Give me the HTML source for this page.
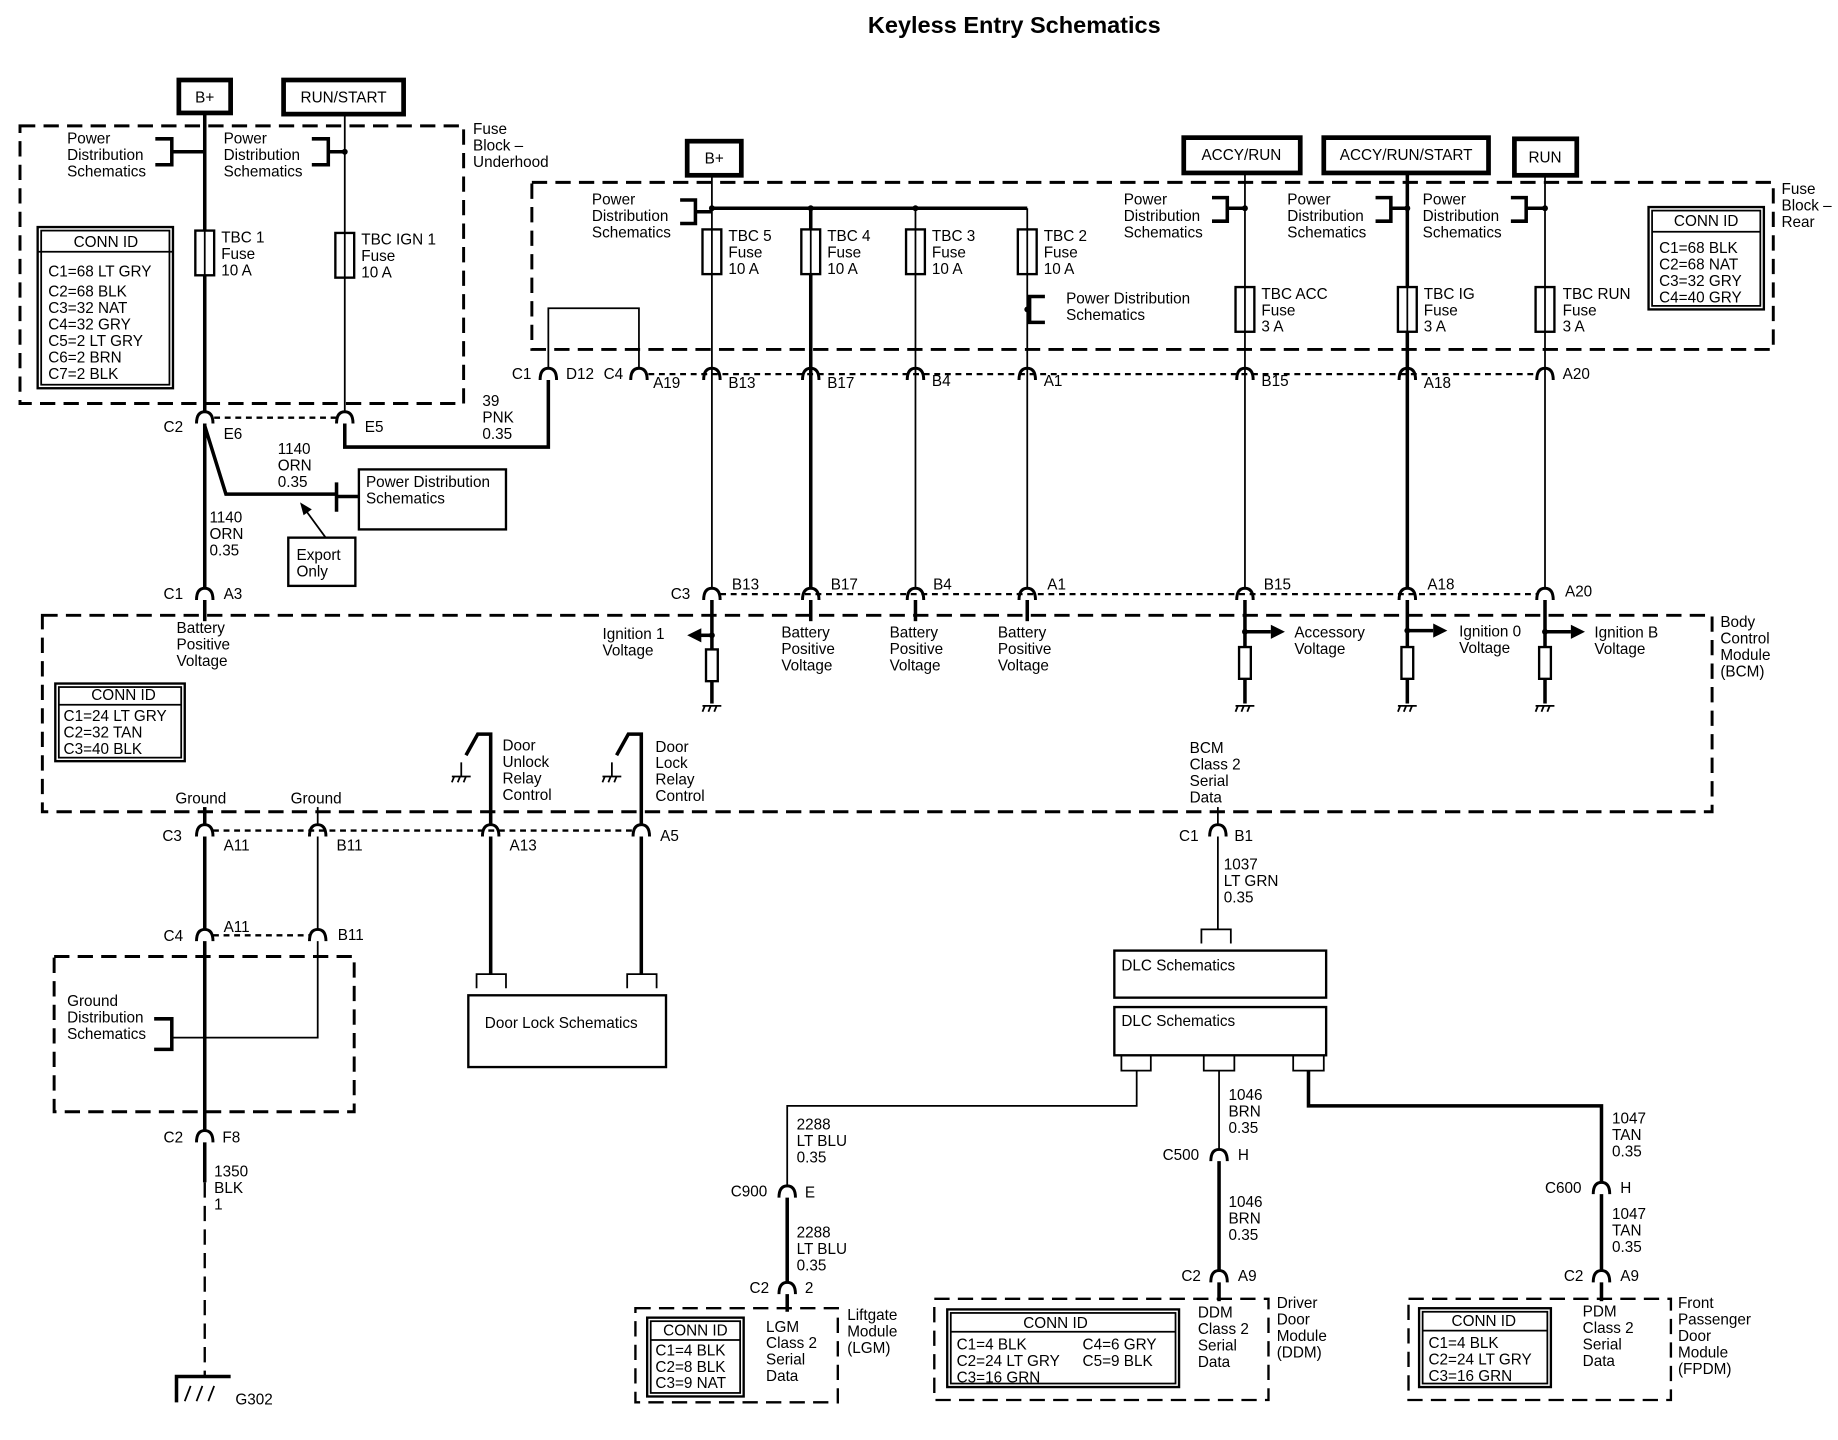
<!DOCTYPE html>
<html><head><meta charset="utf-8"><style>
html,body{margin:0;padding:0;background:#fff}
svg{display:block}
text{font-family:"Liberation Sans",sans-serif;font-size:13px;fill:#000}
.t{font-weight:bold;font-size:20px}
.w{stroke:#000;stroke-width:3;fill:none}
.n{stroke:#000;stroke-width:1.5;fill:none}
.d{stroke:#000;stroke-width:2.5;fill:none;stroke-dasharray:13,7}
.dt{stroke:#000;stroke-width:2;fill:none;stroke-dasharray:5,4}
.b{stroke:#000;stroke-width:2;fill:#fff}
.bb{stroke:#000;stroke-width:4;fill:#fff}
.c{stroke:#000;stroke-width:2.5;fill:none}
</style></head><body>
<svg width="1838" height="1440" viewBox="0 0 1562 1224" preserveAspectRatio="none" xmlns="http://www.w3.org/2000/svg">
<defs>
<g id="cn"><path class="c" d="M-7,5 Q-7,-5 0,-5 Q7,-5 7,5"/></g>
<g id="fz"><rect x="-8" y="0" width="16" height="38" class="b"/><line x1="0" y1="0" x2="0" y2="38" class="n"/></g>
<g id="gnd"><line x1="-8" y1="0" x2="8" y2="0" class="n"/><line x1="-6" y1="0" x2="-8" y2="5" class="n"/><line x1="-1" y1="0" x2="-3" y2="5" class="n"/><line x1="4" y1="0" x2="2" y2="5" class="n"/></g>
</defs>
<text x="862" y="28" class="t" text-anchor="middle">Keyless Entry Schematics</text>

<rect x="152" y="68" width="44" height="28" class="bb"/><text x="174" y="87" text-anchor="middle">B+</text>
<rect x="241" y="68" width="102" height="29" class="bb"/><text x="292" y="87" text-anchor="middle">RUN/START</text>
<rect x="17" y="107" width="377" height="236" class="d"/>
<text x="402" y="114">Fuse</text><text x="402" y="128">Block –</text><text x="402" y="142">Underhood</text>
<line x1="174" y1="96" x2="174" y2="350" class="w"/>
<line x1="293" y1="97" x2="293" y2="350" class="n"/>
<text x="57" y="122">Power</text><text x="57" y="136">Distribution</text><text x="57" y="150">Schematics</text>
<path class="w" d="M132,118 H146 V140 H132 M146,129 H174"/>
<text x="190" y="122">Power</text><text x="190" y="136">Distribution</text><text x="190" y="150">Schematics</text>
<path class="w" d="M265,118 H279 V140 H265 M279,129 H293"/>
<circle cx="293" cy="129" r="2.5"/>
<use href="#fz" x="174" y="196"/><text x="188" y="206">TBC 1</text><text x="188" y="220">Fuse</text><text x="188" y="234">10 A</text>
<use href="#fz" x="293" y="198"/><text x="307" y="208">TBC IGN 1</text><text x="307" y="222">Fuse</text><text x="307" y="236">10 A</text>
<rect x="32" y="193" width="115" height="137" class="b"/><line x1="32" y1="214" x2="147" y2="214" class="n"/>
<rect x="35" y="196" width="109" height="131" class="n"/>
<text x="90" y="210" text-anchor="middle">CONN ID</text>
<text x="41" y="235">C1=68 LT GRY</text><text x="41" y="252">C2=68 BLK</text><text x="41" y="266">C3=32 NAT</text><text x="41" y="280">C4=32 GRY</text><text x="41" y="294">C5=2 LT GRY</text><text x="41" y="308">C6=2 BRN</text><text x="41" y="322">C7=2 BLK</text>

<use href="#cn" x="174" y="355"/><text x="139" y="367">C2</text><text x="190" y="373">E6</text>
<use href="#cn" x="293" y="355"/><text x="310" y="367">E5</text>
<line x1="182" y1="355" x2="286" y2="355" class="dt"/>
<path class="w" d="M293,360 V380 H466 V323"/>
<text x="410" y="345">39</text><text x="410" y="359">PNK</text><text x="410" y="373">0.35</text>
<path class="w" d="M174,362 L192,420 H286"/>
<path class="w" d="M286,410 V435 M286,422 H305"/>
<rect x="305" y="399" width="125" height="51" class="b"/>
<text x="311" y="414">Power Distribution</text><text x="311" y="428">Schematics</text>
<text x="236" y="386">1140</text><text x="236" y="400">ORN</text><text x="236" y="414">0.35</text>
<line x1="279" y1="460" x2="260" y2="434" class="n"/><path d="M255,427 L265,433 L258,438 Z"/>
<rect x="245" y="457" width="57" height="41" class="b"/><text x="252" y="476">Export</text><text x="252" y="490">Only</text>
<line x1="174" y1="360" x2="174" y2="500" class="w"/>
<text x="178" y="444">1140</text><text x="178" y="458">ORN</text><text x="178" y="472">0.35</text>
<use href="#cn" x="174" y="505"/><text x="139" y="509">C1</text><text x="190" y="509">A3</text>

<rect x="584" y="120" width="46" height="29" class="bb"/><text x="607" y="139" text-anchor="middle">B+</text>
<rect x="1006" y="117" width="99" height="30" class="bb"/><text x="1055" y="136" text-anchor="middle">ACCY/RUN</text>
<rect x="1125" y="117" width="140" height="30" class="bb"/><text x="1195" y="136" text-anchor="middle">ACCY/RUN/START</text>
<rect x="1287" y="118" width="53" height="31" class="bb"/><text x="1313" y="138" text-anchor="middle">RUN</text>
<rect x="452" y="155" width="1055" height="142" class="d"/>
<text x="1514" y="165">Fuse</text><text x="1514" y="179">Block –</text><text x="1514" y="193">Rear</text>
<line x1="605" y1="149" x2="605" y2="500" class="n"/>
<line x1="605" y1="177" x2="873" y2="177" class="w"/>
<line x1="689" y1="177" x2="689" y2="500" class="w"/>
<line x1="778" y1="177" x2="778" y2="500" class="n"/>
<line x1="873" y1="177" x2="873" y2="500" class="n"/>
<circle cx="605" cy="177" r="2.5"/><circle cx="689" cy="177" r="2.5"/><circle cx="778" cy="177" r="2.5"/>
<text x="503" y="174">Power</text><text x="503" y="188">Distribution</text><text x="503" y="202">Schematics</text>
<path class="w" d="M578,170 H591 V190 H578 M591,180 H605"/>
<use href="#fz" x="605" y="195"/><text x="619" y="205">TBC 5</text><text x="619" y="219">Fuse</text><text x="619" y="233">10 A</text>
<use href="#fz" x="689" y="195"/><text x="703" y="205">TBC 4</text><text x="703" y="219">Fuse</text><text x="703" y="233">10 A</text>
<use href="#fz" x="778" y="195"/><text x="792" y="205">TBC 3</text><text x="792" y="219">Fuse</text><text x="792" y="233">10 A</text>
<use href="#fz" x="873" y="195"/><text x="887" y="205">TBC 2</text><text x="887" y="219">Fuse</text><text x="887" y="233">10 A</text>
<path class="w" d="M888,252 H875 V274 H888"/><circle cx="873" cy="263" r="2.5"/>
<text x="906" y="258">Power Distribution</text><text x="906" y="272">Schematics</text>
<path class="n" d="M466,313 V262 H543 V313"/>

<line x1="1058" y1="147" x2="1058" y2="500" class="n"/>
<line x1="1196" y1="147" x2="1196" y2="500" class="w"/>
<line x1="1313" y1="149" x2="1313" y2="500" class="n"/>
<text x="955" y="174">Power</text><text x="955" y="188">Distribution</text><text x="955" y="202">Schematics</text>
<path class="w" d="M1030,168 H1043 V188 H1030 M1043,177 H1058"/><circle cx="1058" cy="177" r="2.5"/>
<text x="1094" y="174">Power</text><text x="1094" y="188">Distribution</text><text x="1094" y="202">Schematics</text>
<path class="w" d="M1169,168 H1182 V188 H1169 M1182,177 H1196"/><circle cx="1196" cy="177" r="2.5"/>
<text x="1209" y="174">Power</text><text x="1209" y="188">Distribution</text><text x="1209" y="202">Schematics</text>
<path class="w" d="M1284,168 H1297 V188 H1284 M1297,177 H1313"/><circle cx="1313" cy="177" r="2.5"/>
<use href="#fz" x="1058" y="244"/><text x="1072" y="254">TBC ACC</text><text x="1072" y="268">Fuse</text><text x="1072" y="282">3 A</text>
<use href="#fz" x="1196" y="244"/><text x="1210" y="254">TBC IG</text><text x="1210" y="268">Fuse</text><text x="1210" y="282">3 A</text>
<use href="#fz" x="1313" y="244"/><text x="1328" y="254">TBC RUN</text><text x="1328" y="268">Fuse</text><text x="1328" y="282">3 A</text>
<rect x="1401" y="176" width="98" height="87" class="b"/><rect x="1404" y="179" width="92" height="81" class="n"/>
<line x1="1404" y1="197" x2="1496" y2="197" class="n"/>
<text x="1450" y="192" text-anchor="middle">CONN ID</text>
<text x="1410" y="215">C1=68 BLK</text><text x="1410" y="229">C2=68 NAT</text><text x="1410" y="243">C3=32 GRY</text><text x="1410" y="257">C4=40 GRY</text>

<line x1="551" y1="318" x2="1306" y2="318" class="dt"/>
<use href="#cn" x="466" y="318"/><text x="435" y="322">C1</text><text x="481" y="322">D12</text>
<use href="#cn" x="543" y="318"/><text x="513" y="322">C4</text><text x="555" y="330">A19</text>
<use href="#cn" x="605" y="318"/><text x="619" y="330">B13</text>
<use href="#cn" x="689" y="318"/><text x="703" y="330">B17</text>
<use href="#cn" x="778" y="318"/><text x="792" y="328">B4</text>
<use href="#cn" x="873" y="318"/><text x="887" y="328">A1</text>
<use href="#cn" x="1058" y="318"/><text x="1072" y="328">B15</text>
<use href="#cn" x="1196" y="318"/><text x="1210" y="330">A18</text>
<use href="#cn" x="1313" y="318"/><text x="1328" y="322">A20</text>

<line x1="612" y1="505" x2="1306" y2="505" class="dt"/>
<use href="#cn" x="605" y="505"/><text x="570" y="509">C3</text><text x="622" y="501">B13</text>
<use href="#cn" x="689" y="505"/><text x="706" y="501">B17</text>
<use href="#cn" x="778" y="505"/><text x="793" y="501">B4</text>
<use href="#cn" x="873" y="505"/><text x="890" y="501">A1</text>
<use href="#cn" x="1058" y="505"/><text x="1074" y="501">B15</text>
<use href="#cn" x="1196" y="505"/><text x="1213" y="501">A18</text>
<use href="#cn" x="1313" y="505"/><text x="1330" y="507">A20</text>

<rect x="36" y="523" width="1419" height="167" class="d"/>
<text x="1462" y="533">Body</text><text x="1462" y="547">Control</text><text x="1462" y="561">Module</text><text x="1462" y="575">(BCM)</text>
<line x1="174" y1="510" x2="174" y2="528" class="w"/>
<text x="150" y="538">Battery</text><text x="150" y="552">Positive</text><text x="150" y="566">Voltage</text>
<g class="w"><line x1="605" y1="510" x2="605" y2="552"/><line x1="689" y1="510" x2="689" y2="528"/><line x1="778" y1="510" x2="778" y2="528"/><line x1="873" y1="510" x2="873" y2="528"/></g>
<text x="664" y="542">Battery</text><text x="664" y="556">Positive</text><text x="664" y="570">Voltage</text>
<text x="756" y="542">Battery</text><text x="756" y="556">Positive</text><text x="756" y="570">Voltage</text>
<text x="848" y="542">Battery</text><text x="848" y="556">Positive</text><text x="848" y="570">Voltage</text>
<line x1="605" y1="540" x2="594" y2="540" class="w"/><path d="M584,540 L596,534 L596,546 Z"/><circle cx="605" cy="540" r="2.5"/>
<text x="512" y="543">Ignition 1</text><text x="512" y="557">Voltage</text>
<rect x="600" y="552" width="10" height="27" class="b"/><line x1="605" y1="579" x2="605" y2="598" class="w"/><use href="#gnd" x="605" y="600"/>
<g>
<line x1="1058" y1="510" x2="1058" y2="552" class="w"/><line x1="1058" y1="537" x2="1080" y2="537" class="w"/><path d="M1092,537 L1080,531 L1080,543 Z"/><circle cx="1058" cy="537" r="2.5"/>
<rect x="1053" y="550" width="10" height="27" class="b"/><line x1="1058" y1="577" x2="1058" y2="598" class="w"/><use href="#gnd" x="1058" y="600"/>
<text x="1100" y="542">Accessory</text><text x="1100" y="556">Voltage</text>
<line x1="1196" y1="510" x2="1196" y2="552" class="w"/><line x1="1196" y1="536" x2="1218" y2="536" class="w"/><path d="M1230,536 L1218,530 L1218,542 Z"/><circle cx="1196" cy="536" r="2.5"/>
<rect x="1191" y="550" width="10" height="27" class="b"/><line x1="1196" y1="577" x2="1196" y2="598" class="w"/><use href="#gnd" x="1196" y="600"/>
<text x="1240" y="541">Ignition 0</text><text x="1240" y="555">Voltage</text>
<line x1="1313" y1="510" x2="1313" y2="552" class="w"/><line x1="1313" y1="537" x2="1335" y2="537" class="w"/><path d="M1347,537 L1335,531 L1335,543 Z"/><circle cx="1313" cy="537" r="2.5"/>
<rect x="1308" y="550" width="10" height="27" class="b"/><line x1="1313" y1="577" x2="1313" y2="598" class="w"/><use href="#gnd" x="1313" y="600"/>
<text x="1355" y="542">Ignition B</text><text x="1355" y="556">Voltage</text>
</g>
<rect x="47" y="581" width="110" height="66" class="b"/><rect x="50" y="584" width="104" height="60" class="n"/><line x1="50" y1="599" x2="154" y2="599" class="n"/>
<text x="105" y="595" text-anchor="middle">CONN ID</text>
<text x="54" y="613">C1=24 LT GRY</text><text x="54" y="627">C2=32 TAN</text><text x="54" y="641">C3=40 BLK</text>
<path class="w" d="M417,700 V624 H406 L396,642"/><use href="#gnd" x="392" y="660"/><line x1="392" y1="648" x2="392" y2="660" class="n"/>
<text x="427" y="638">Door</text><text x="427" y="652">Unlock</text><text x="427" y="666">Relay</text><text x="427" y="680">Control</text>
<path class="w" d="M545,700 V624 H534 L524,642"/><use href="#gnd" x="520" y="660"/><line x1="520" y1="648" x2="520" y2="660" class="n"/>
<text x="557" y="639">Door</text><text x="557" y="653">Lock</text><text x="557" y="667">Relay</text><text x="557" y="681">Control</text>
<text x="1011" y="640">BCM</text><text x="1011" y="654">Class 2</text><text x="1011" y="668">Serial</text><text x="1011" y="682">Data</text>
<text x="149" y="683">Ground</text><text x="247" y="683">Ground</text>
<line x1="174" y1="686" x2="174" y2="701" class="w"/><line x1="270" y1="686" x2="270" y2="701" class="n"/>
<line x1="1035" y1="686" x2="1035" y2="701" class="n"/>

<line x1="181" y1="706" x2="538" y2="706" class="dt"/>
<use href="#cn" x="174" y="706"/><text x="138" y="715">C3</text><text x="190" y="723">A11</text>
<use href="#cn" x="270" y="706"/><text x="286" y="723">B11</text>
<use href="#cn" x="417" y="706"/><text x="433" y="723">A13</text>
<use href="#cn" x="545" y="706"/><text x="561" y="715">A5</text>
<use href="#cn" x="1035" y="706"/><text x="1002" y="715">C1</text><text x="1049" y="715">B1</text>
<path class="w" d="M417,711 V828 M545,711 V828"/>
<path class="n" d="M405,840 V828 H430 V840 M533,840 V828 H558 V840"/>
<rect x="398" y="846" width="168" height="61" class="b"/><text x="412" y="874">Door Lock Schematics</text>
<line x1="270" y1="711" x2="270" y2="790" class="n"/>
<line x1="174" y1="711" x2="174" y2="790" class="w"/>
<line x1="181" y1="795" x2="263" y2="795" class="dt"/>
<use href="#cn" x="174" y="795"/><text x="139" y="800">C4</text><text x="190" y="792">A11</text>
<use href="#cn" x="270" y="795"/><text x="287" y="799">B11</text>
<rect x="46" y="813" width="255" height="132" class="d"/>
<text x="57" y="855">Ground</text><text x="57" y="869">Distribution</text><text x="57" y="883">Schematics</text>
<path class="w" d="M131,866 H146 V892 H131"/>
<path class="n" d="M270,800 V882 H146"/>
<line x1="174" y1="800" x2="174" y2="961" class="w"/>
<use href="#cn" x="174" y="966"/><text x="139" y="971">C2</text><text x="189" y="971">F8</text>
<line x1="174" y1="971" x2="174" y2="1005" class="w"/>
<line x1="174" y1="1005" x2="174" y2="1170" class="d" style="stroke-width:2"/>
<text x="182" y="1000">1350</text><text x="182" y="1014">BLK</text><text x="182" y="1028">1</text>
<path class="w" d="M150,1192 V1170 H196"/>
<path class="n" d="M162,1178 L157,1191 M172,1178 L167,1191 M182,1178 L177,1191"/>
<text x="200" y="1194">G302</text>

<line x1="1035" y1="711" x2="1035" y2="790" class="n"/>
<text x="1040" y="739">1037</text><text x="1040" y="753">LT GRN</text><text x="1040" y="767">0.35</text>
<path class="n" d="M1021,802 V790 H1046 V802"/>
<rect x="947" y="808" width="180" height="40" class="b"/><text x="953" y="825">DLC Schematics</text>
<rect x="947" y="856" width="180" height="41" class="b"/><text x="953" y="872">DLC Schematics</text>
<path class="n" d="M953,897 V910 H978 V897 M1023,897 V910 H1049 V897 M1099,897 V910 H1125 V897"/>
<path class="n" d="M966,910 V940 H669 V1008"/>
<path class="n" d="M1036,910 V977"/>
<path class="w" d="M1112,910 V940 H1361 V1005"/>
<text x="677" y="960">2288</text><text x="677" y="974">LT BLU</text><text x="677" y="988">0.35</text>
<text x="1044" y="935">1046</text><text x="1044" y="949">BRN</text><text x="1044" y="963">0.35</text>
<text x="1370" y="955">1047</text><text x="1370" y="969">TAN</text><text x="1370" y="983">0.35</text>
<use href="#cn" x="669" y="1013"/><text x="621" y="1017">C900</text><text x="684" y="1018">E</text>
<use href="#cn" x="1036" y="982"/><text x="988" y="986">C500</text><text x="1052" y="986">H</text>
<use href="#cn" x="1361" y="1010"/><text x="1313" y="1014">C600</text><text x="1377" y="1014">H</text>
<line x1="669" y1="1018" x2="669" y2="1090" class="w"/><line x1="1036" y1="987" x2="1036" y2="1080" class="w"/><line x1="1361" y1="1015" x2="1361" y2="1080" class="w"/>
<text x="677" y="1052">2288</text><text x="677" y="1066">LT BLU</text><text x="677" y="1080">0.35</text>
<text x="1044" y="1026">1046</text><text x="1044" y="1040">BRN</text><text x="1044" y="1054">0.35</text>
<text x="1370" y="1036">1047</text><text x="1370" y="1050">TAN</text><text x="1370" y="1064">0.35</text>
<use href="#cn" x="669" y="1095"/><text x="637" y="1099">C2</text><text x="684" y="1099">2</text>
<use href="#cn" x="1036" y="1085"/><text x="1004" y="1089">C2</text><text x="1052" y="1089">A9</text>
<use href="#cn" x="1361" y="1085"/><text x="1329" y="1089">C2</text><text x="1377" y="1089">A9</text>
<line x1="669" y1="1100" x2="669" y2="1115" class="w"/><line x1="1036" y1="1090" x2="1036" y2="1106" class="w"/><line x1="1361" y1="1090" x2="1361" y2="1106" class="w"/>

<rect x="540" y="1112" width="172" height="80" class="d" style="stroke-width:2"/>
<rect x="550" y="1120" width="82" height="67" class="b"/><rect x="553" y="1123" width="76" height="61" class="n"/><line x1="553" y1="1139" x2="629" y2="1139" class="n"/>
<text x="591" y="1135" text-anchor="middle">CONN ID</text>
<text x="557" y="1152">C1=4 BLK</text><text x="557" y="1166">C2=8 BLK</text><text x="557" y="1180">C3=9 NAT</text>
<text x="651" y="1132">LGM</text><text x="651" y="1146">Class 2</text><text x="651" y="1160">Serial</text><text x="651" y="1174">Data</text>
<text x="720" y="1122">Liftgate</text><text x="720" y="1136">Module</text><text x="720" y="1150">(LGM)</text>

<rect x="794" y="1104" width="284" height="86" class="d" style="stroke-width:2"/>
<rect x="805" y="1113" width="197" height="66" class="b"/><rect x="808" y="1116" width="191" height="60" class="n"/><line x1="808" y1="1132" x2="999" y2="1132" class="n"/>
<text x="897" y="1129" text-anchor="middle">CONN ID</text>
<text x="813" y="1147">C1=4 BLK</text><text x="920" y="1147">C4=6 GRY</text><text x="813" y="1161">C2=24 LT GRY</text><text x="920" y="1161">C5=9 BLK</text><text x="813" y="1175">C3=16 GRN</text>
<text x="1018" y="1120">DDM</text><text x="1018" y="1134">Class 2</text><text x="1018" y="1148">Serial</text><text x="1018" y="1162">Data</text>
<text x="1085" y="1112">Driver</text><text x="1085" y="1126">Door</text><text x="1085" y="1140">Module</text><text x="1085" y="1154">(DDM)</text>

<rect x="1197" y="1104" width="223" height="86" class="d" style="stroke-width:2"/>
<rect x="1206" y="1112" width="112" height="67" class="b"/><rect x="1209" y="1115" width="106" height="61" class="n"/><line x1="1209" y1="1131" x2="1315" y2="1131" class="n"/>
<text x="1261" y="1127" text-anchor="middle">CONN ID</text>
<text x="1214" y="1146">C1=4 BLK</text><text x="1214" y="1160">C2=24 LT GRY</text><text x="1214" y="1174">C3=16 GRN</text>
<text x="1345" y="1119">PDM</text><text x="1345" y="1133">Class 2</text><text x="1345" y="1147">Serial</text><text x="1345" y="1161">Data</text>
<text x="1426" y="1112">Front</text><text x="1426" y="1126">Passenger</text><text x="1426" y="1140">Door</text><text x="1426" y="1154">Module</text><text x="1426" y="1168">(FPDM)</text>
</svg>
</body></html>
